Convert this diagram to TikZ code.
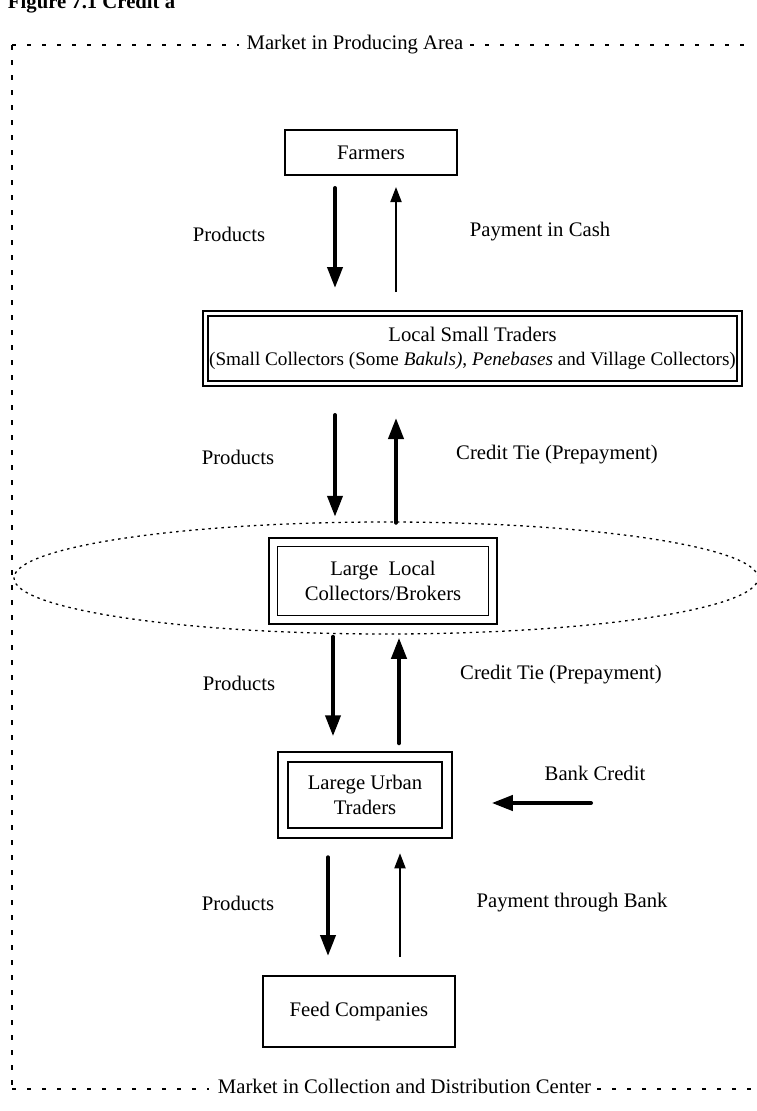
\documentclass[tikz,border=0pt]{standalone}
\usepackage{fontspec}
\setmainfont{Liberation Serif}
\usetikzlibrary{arrows.meta}
\begin{document}
\begin{tikzpicture}[x=1pt,y=-1pt,
  every node/.style={font=\fontsize{20.7}{24.5}\selectfont, align=center, inner sep=0pt, outer sep=0pt},
  box/.style={draw, line width=1.8pt, rectangle},
  dbox/.style={draw, line width=1.8pt, double, double distance=#1, rectangle},
  thickarr/.style={line width=4pt, line cap=round, -{Triangle[width=15pt,length=21pt]}},
  thinarr/.style={line width=1.8pt, -{Triangle[width=11pt,length=15pt]}},
  hborder/.style={line width=2.5pt, dash pattern=on 4pt off 11pt},
  vborder/.style={line width=2.5pt, dash pattern=on 5pt off 10pt},
  grouping/.style={line width=1.3pt, dash pattern=on 2.5pt off 4pt}
]
\useasboundingbox (0,0) rectangle (757,1111);
\clip (0,0) rectangle (757,1111);

% cropped title
\begin{scope}
\clip (0,0) rectangle (400,14);
\node[anchor=base west, font=\bfseries\fontsize{20.7}{24}\selectfont] (title) at (8,8) {Figure 7.1 Credit a};
\end{scope}

% outer border
\coordinate (tl) at (12,45);
\coordinate (tr) at (752,45);
\coordinate (bl) at (12,1089);
\coordinate (br) at (752,1089);
\node[anchor=base] (toplbl) at (355,49) {Market in Producing Area};
\node[anchor=base] (botlbl) at (404.5,1093) {Market in Collection and Distribution Center};
\draw[hborder] (tl) -- ([xshift=-8pt]toplbl.west |- tl);
\draw[hborder] ([xshift=7pt]toplbl.east |- tr) -- (tr);
\draw[vborder] (tl) -- (bl);
\draw[hborder] (bl) -- ([xshift=-9pt]botlbl.west |- bl);
\draw[hborder] ([xshift=6pt]botlbl.east |- br) -- (br);

% grouping ellipse
\draw[grouping] (386,578) ellipse [x radius=372pt, y radius=56pt];

% boxes
\node[box, minimum width=172pt, minimum height=45pt] (farmers) at (371,152.5) {Farmers};
\node[dbox=3.2pt, minimum width=534pt, minimum height=70pt] (local) at (472.5,348.5)
  {Local Small Traders\\{\fontsize{19.2}{24.5}\selectfont(Small Collectors (Some \textit{Bakuls)}, \textit{Penebases} and Village Collectors)}};
\node[dbox=6.7pt, minimum width=219.5pt, minimum height=77.5pt] (large) at (383,581)
  {Large\ \ Local\\Collectors/Brokers};
\node[dbox=8.2pt, minimum width=164.5pt, minimum height=76.5pt] (urban) at (365,795)
  {Larege Urban\\Traders};
\node[box, minimum width=192pt, minimum height=71pt] (feed) at (359,1011.5) {Feed Companies};

% arrow columns
\coordinate (c1) at (335,0);
\coordinate (c2) at (396,0);
\coordinate (c3) at (333,0);
\coordinate (c4) at (399,0);
\coordinate (c5) at (328,0);
\coordinate (c6) at (400,0);
\coordinate (bk) at (591,803);

\draw[thickarr, shorten <=13pt, shorten >=25.5pt] (farmers.south -| c1) -- (local.north -| c1);
\draw[thinarr, shorten <=21.5pt, shorten >=12pt] (local.north -| c2) -- (farmers.south -| c2);
\draw[thickarr, shorten <=31.5pt, shorten >=25.5pt] (local.south -| c1) -- (large.north -| c1);
\draw[thickarr, shorten <=19.5pt, shorten >=34.5pt] (large.north -| c2) -- (local.south -| c2);
\draw[thickarr, shorten <=17pt, shorten >=20.5pt] (large.south -| c3) -- (urban.north -| c3);
\draw[thickarr, shorten <=13.5pt, shorten >=18pt] (urban.north -| c4) -- (large.south -| c4);
\draw[thickarr, shorten <=24pt, shorten >=20pt] (urban.south -| c5) -- (feed.north -| c5);
\draw[thinarr, shorten <=19pt, shorten >=20pt] (feed.north -| c6) -- (urban.south -| c6);
\draw[thickarr, shorten >=44.5pt] (bk) -- (urban.east |- bk);

% labels
\node (p1) at (229,234) {Products};
\node (pay1) at (540,232) {Payment in Cash};
\node (p2) at (238,457) {Products};
\node (ct1) at (557,455) {Credit Tie (Prepayment)};
\node (p3) at (239,683) {Products};
\node (ct2) at (561,675) {Credit Tie (Prepayment)};
\node (bank) at (595,773) {Bank Credit};
\node (p4) at (238,903) {Products};
\node (pay2) at (572,903) {Payment through Bank};
\end{tikzpicture}
\end{document}
